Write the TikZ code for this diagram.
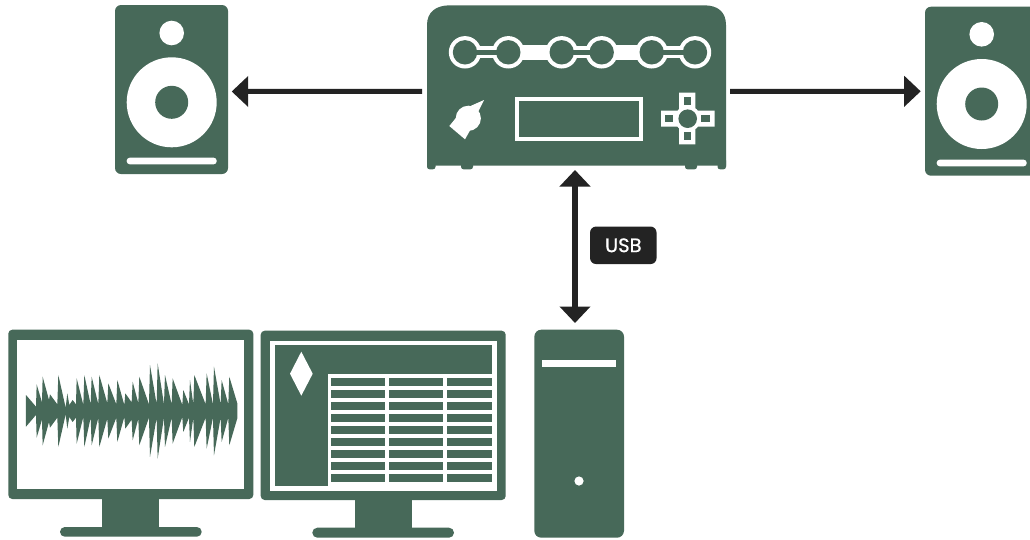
\documentclass[tikz,border=0pt]{standalone}
\usepackage{fontspec}
\setmainfont{Poppins}
\newfontfamily\usbfont[FakeBold=0.7]{Poppins}
\usetikzlibrary{arrows.meta}
\definecolor{grn}{HTML}{476959}
\definecolor{ink}{HTML}{232323}
\tikzset{
  body/.style={fill=grn,draw=none,inner sep=0pt,outer sep=0pt,rounded corners=6pt},
  ghost/.style={draw=none,inner sep=0pt,outer sep=0pt},
  wht/.style={fill=white,draw=none},
  gr/.style={fill=grn,draw=none},
  conn/.style={draw=ink,line width=5pt,-{Triangle[length=16.5pt,width=30pt]}},
  biconn/.style={draw=ink,line width=5.5pt,{Triangle[length=16.5pt,width=30pt]}-{Triangle[length=16.5pt,width=30pt]}},
  badge/.style={fill=ink,text=white,rounded corners=6pt,inner sep=0pt,outer sep=0pt,minimum width=66.5pt,minimum height=37.5pt,font=\usbfont\fontsize{19.5}{21}\selectfont}
}
\begin{document}
\begin{tikzpicture}[x=1pt,y=-1pt]
\useasboundingbox (0,0) rectangle (1030,539);
\clip (0,0) rectangle (1030,539);
\fill[white] (0,0) rectangle (1030,539);
% left speaker
\node[body,minimum width=113pt,minimum height=169pt] (spkL) at (171.5,89.5) {};
\fill[wht] (171.7,33) circle[radius=12.3];
\fill[wht] (171.7,102.3) circle[radius=45];
\fill[gr] (171.7,102.3) circle[radius=16.5];
\fill[wht,rounded corners=3pt] (126.7,157.7) rectangle (216.7,164.3);
% right speaker
\node[body,minimum width=114pt,minimum height=169pt] (spkR) at (982,91.2) {};
\fill[wht] (981.7,34.3) circle[radius=12.3];
\fill[wht] (981.7,104) circle[radius=45];
\fill[gr] (981.7,104) circle[radius=16.5];
\fill[wht,rounded corners=3pt] (936.7,159.7) rectangle (1026.7,166.3);
% device
\node[ghost,minimum width=299pt,minimum height=163.7pt] (device) at (576.5,87.15) {};
\fill[grn] (427,25) .. controls (427,12) and (436,5.3) .. (450,5.3) -- (704,5.3) .. controls (718,5.3) and (726,12) .. (726,25) -- (726,165.7) -- (427,165.7) -- cycle;
\foreach \a/\b in {427/435.5,461/473,685/697,717.5/726}
  \fill[grn,rounded corners=2.5pt] (\a,158) rectangle (\b,169.3);
% rings
\fill[wht] (465,46.3) rectangle (695,58.3);
\fill[wht] (508,44.8) rectangle (562,59.8);
\fill[wht] (602,44.8) rectangle (652,59.8);
\foreach \c in {465,508.3,561.7,601.7,651.7,695}
  \fill[wht] (\c,52.3) circle[radius=16.2];
\foreach \c in {465,508.3,561.7,601.7,651.7,695}
  \fill[gr] (\c,52.3) circle[radius=12.2];
\foreach \a/\b in {465/508.3,561.7/601.7,651.7/695}
  \fill[gr] (\a,50) rectangle (\b,54.8);
% knob
\fill[wht] (468.3,118.3) circle[radius=12.6];
\fill[wht] (484,100) -- (476,116) -- (466,108) -- cycle;
\fill[wht] (449.3,126) -- (460,113) -- (472,127) -- (465,139.3) -- cycle;
% screen
\draw[white,line width=4pt] (517,99.3) rectangle (640.7,138.7);
% cross
\fill[wht] (679,92.7) -- (695.3,92.7) -- (695.3,110.7) -- (714.7,110.7) -- (714.7,126.7) -- (695.3,126.7) -- (695.3,144.3) -- (679,144.3) -- (679,126.7) -- (661,126.7) -- (661,110.7) -- (679,110.7) -- cycle;
\fill[wht] (687.7,118.7) circle[radius=13];
\fill[gr] (687.7,118.7) circle[radius=9.3];
\fill[gr] (683.5,96.7) rectangle (690.7,105.3);
\fill[gr] (683.5,132) rectangle (690.7,140.3);
\fill[gr] (665.3,115) rectangle (673.3,122.3);
\fill[gr] (701.3,115) rectangle (709.7,122.3);
% monitor 1
\node[body,rounded corners=4pt,minimum width=245pt,minimum height=169.3pt] (mon1) at (130.8,414.35) {};
\fill[wht] (17.3,339.7) rectangle (244,489.3);
\fill[grn] (102.3,495) rectangle (159.3,530);
\fill[grn,rounded corners=4.8pt] (60,527) rectangle (201.7,536.7);
% waveform
\begin{scope}[shift={(0,325)},x=0.3333pt,y=-0.3333pt]
\fill[grn] (78,210) -- (108,245) -- (110,178) -- (126,232) -- (128,155) -- (147,225) -- (150,208) -- (172,238) -- (175,150) -- (197,248) -- (202,205) -- (208,240) -- (218,225) -- (228,238) -- (230,160) -- (250,240) -- (253,150) -- (272,238) -- (275,155) -- (295,238) -- (298,150) -- (322,235) -- (325,175) -- (349,238) -- (352,165) -- (373,240) -- (376,205) -- (395,232) -- (398,170) -- (415,235) -- (418,155) -- (447,238) -- (450,120) -- (470,238) -- (473,115) -- (492,238) -- (495,150) -- (515,238) -- (518,160) -- (547,240) -- (550,195) -- (567,238) -- (570,165) -- (580,238) -- (583,150) -- (617,238) -- (620,145) -- (639,238) -- (642,125) -- (662,238) -- (665,165) -- (685,238) -- (688,155) -- (712,235) -- (712,280)
-- (688,361) -- (685,278) -- (665,351) -- (662,278) -- (642,391) -- (639,278) -- (620,371) -- (617,278) -- (583,366) -- (580,278) -- (570,351) -- (567,278) -- (550,321) -- (547,276) -- (518,356) -- (515,278) -- (495,366) -- (492,278) -- (473,401) -- (470,278) -- (450,396) -- (447,278) -- (418,361) -- (415,281) -- (398,346) -- (395,284) -- (376,311) -- (373,276) -- (352,351) -- (349,278) -- (325,341) -- (322,281) -- (298,366) -- (295,278) -- (275,361) -- (272,278) -- (253,366) -- (250,276) -- (230,356) -- (228,278) -- (218,291) -- (208,276) -- (202,311) -- (197,268) -- (175,366) -- (172,278) -- (150,308) -- (147,291) -- (128,361) -- (126,284) -- (110,338) -- (108,270) -- (78,305) -- cycle;
\end{scope}
% monitor 2
\node[body,rounded corners=4pt,minimum width=245pt,minimum height=169.3pt] (mon2) at (383.2,415.35) {};
\fill[wht] (270,340.7) rectangle (496.7,490.7);
\fill[gr] (275,345) rectangle (492.3,486.3);
\fill[wht] (328.3,374) rectangle (492.3,486.3);
\foreach \r in {0,...,8}{
  \fill[gr] (331,378+12*\r) rectangle (385,386+12*\r);
  \fill[gr] (389.3,378+12*\r) rectangle (443,386+12*\r);
  \fill[gr] (447.3,378+12*\r) rectangle (492.3,386+12*\r);
}
\fill[wht] (301.3,351.7) -- (312.7,373.7) -- (301.3,395.7) -- (290,373.7) -- cycle;
\fill[grn] (355,495) rectangle (411.7,530);
\fill[grn,rounded corners=5pt] (312.3,527.7) rectangle (454,537.7);
% computer
\node[body,rounded corners=7pt,minimum width=89.7pt,minimum height=208pt] (computer) at (579.15,433.7) {};
\fill[wht] (541.7,359.7) rectangle (616.3,367.3);
\fill[wht] (579,481) circle[radius=4.6];
% connectors
\draw[conn] ([xshift=-5,yshift=-4.1]device.west) -- ([xshift=3.7,yshift=-2]spkL.east);
\draw[conn] ([xshift=4,yshift=-4.1]device.east) -- ([xshift=-4.3,yshift=-0.1]spkR.west);
\draw[biconn] ([xshift=-1.5,yshift=-1]device.south) -- ([xshift=-4.15,yshift=6.7]computer.north);
\node[badge] (usb) at (623.3,245.3) {USB};
\end{tikzpicture}
\end{document}
